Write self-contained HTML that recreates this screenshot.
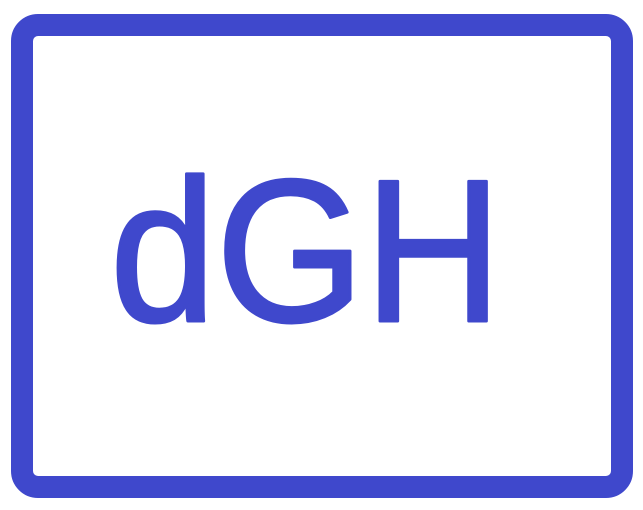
<!DOCTYPE html>
<html><head><meta charset="utf-8"><style>
html,body{margin:0;padding:0;background:#fff;width:643px;height:510px;overflow:hidden}
</style></head><body>
<svg width="643" height="510" viewBox="0 0 643 510">
  <rect x="22" y="25" width="600" height="462" rx="16" ry="16" fill="none" stroke="#3F48CC" stroke-width="22"/>
  <text x="110" y="321" font-family="Liberation Sans, sans-serif" font-size="203" fill="#3F48CC" stroke="#3F48CC" stroke-width="3" stroke-linejoin="round" textLength="392" lengthAdjust="spacingAndGlyphs">dGH</text>
</svg>
</body></html>
